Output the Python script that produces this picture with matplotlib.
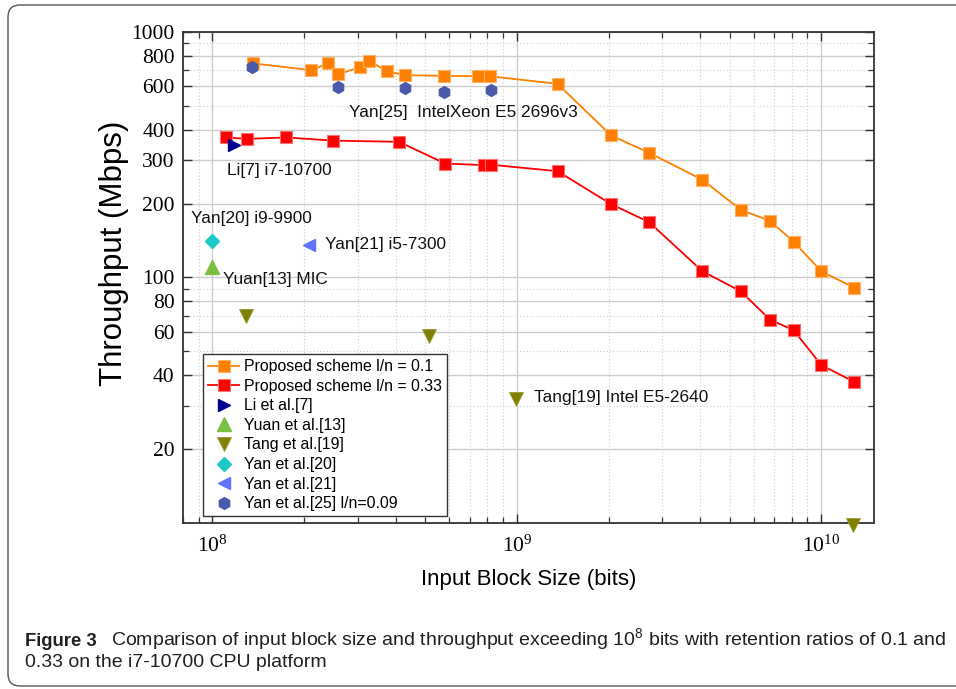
import matplotlib
matplotlib.use('Agg')
import matplotlib.pyplot as plt
from matplotlib.ticker import FixedLocator, FixedFormatter, LogLocator, NullFormatter, LogFormatterSciNotation
from matplotlib.patches import FancyBboxPatch
from matplotlib.transforms import IdentityTransform

# ---------------- data ----------------
prop01_x = [1.36e8, 2.11e8, 2.40e8, 2.59e8, 3.05e8, 3.27e8, 3.73e8, 4.29e8, 5.78e8, 7.46e8, 8.18e8,
            1.36e9, 2.04e9, 2.72e9, 4.07e9, 5.43e9, 6.78e9, 8.11e9, 1.0e10, 1.28e10]
prop01_y = [745, 699, 745, 674, 718, 764, 693, 667, 663, 660, 660,
            615, 379, 322, 250, 189, 170, 140, 106, 91]
prop033_x = [1.11e8, 1.30e8, 1.75e8, 2.49e8, 4.10e8, 5.82e8, 7.78e8, 8.23e8,
             1.36e9, 2.04e9, 2.72e9, 4.07e9, 5.43e9, 6.78e9, 8.11e9, 1.0e10, 1.28e10]
prop033_y = [372, 367, 372, 361, 357, 291, 287, 288,
             271, 199, 168, 106, 88, 67.4, 61, 44, 37.6]
li7_x = [1.175e8]
li7_y = [345]
yuan13_x = [1.0e8]
yuan13_y = [110]
tang19_x = [1.29e8, 5.13e8, 9.9e8, 1.27e10]
tang19_y = [70, 58, 32, 9.8]
yan20_x = [1.0e8]
yan20_y = [141]
yan21_x = [2.08e8]
yan21_y = [136]
yan25_x = [1.35e8, 2.59e8, 4.29e8, 5.78e8, 8.24e8]
yan25_y = [722, 598, 591, 569, 578]

ytick_major = [20, 40, 60, 80, 100, 200, 300, 400, 600, 800, 1000]
ytick_labels = ['20', '40', '60', '80', '100', '200', '300', '400', '600', '800', '1000']
ytick_minor = [30, 50, 70, 90, 500, 700, 900]

legend_labels = ['Proposed scheme l/n = 0.1', 'Proposed scheme l/n = 0.33', 'Li et al.[7]',
                 'Yuan et al.[13]', 'Tang et al.[19]', 'Yan et al.[20]', 'Yan et al.[21]',
                 'Yan et al.[25] l/n=0.09']
annotations = ['Yan[25]  IntelXeon E5 2696v3', 'Li[7] i7-10700', 'Yan[20] i9-9900',
               'Yan[21] i5-7300', 'Yuan[13] MIC', 'Tang[19] Intel E5-2640']

# ---------------- figure ----------------
SANS = ['Liberation Sans', 'DejaVu Sans']
SERIF = ['Liberation Serif', 'DejaVu Serif']

fig = plt.figure(figsize=(9.56, 6.89), dpi=100)
ax = fig.add_axes([183/956, 1-523/689, (874-183)/956, (523-32)/689])
ax.set_xscale('log')
ax.set_yscale('log')
ax.set_xlim(8.0e7, 1.49e10)
ax.set_ylim(10, 1000)

ORANGE = '#FF8000'
RED = '#FF0000'

ax.plot(prop01_x, prop01_y, '-s', color=ORANGE, lw=1.3, ms=8.2, mfc=ORANGE,
        mec='#FFB060', mew=0.8, label=legend_labels[0], zorder=4)
ax.plot(prop033_x, prop033_y, '-s', color=RED, lw=1.3, ms=8.2, mfc=RED,
        mec='#FF7070', mew=0.8, label=legend_labels[1], zorder=4)
ax.plot(li7_x, li7_y, '>', ls='none', color='#00008F', ms=9, mec='#00008F', label=legend_labels[2], zorder=5)
ax.plot(yuan13_x, yuan13_y, '^', ls='none', color='#7AC143', ms=10, mec='#7AC143', label=legend_labels[3], zorder=5)
ax.plot(tang19_x, tang19_y, 'v', ls='none', color='#7F7F00', ms=9.5, mec='#9A9A30', mew=0.6,
        label=legend_labels[4], zorder=5, clip_on=False)
ax.plot(yan20_x, yan20_y, 'D', ls='none', color='#1CC8C8', ms=7.5, mec='#1CC8C8', label=legend_labels[5], zorder=5)
ax.plot(yan21_x, yan21_y, '<', ls='none', color='#5F73FF', ms=9, mec='#5F73FF', label=legend_labels[6], zorder=5)
ax.plot(yan25_x, yan25_y, 'h', ls='none', color='#4A5AA8', ms=8.5, mec='#4A5AA8', label=legend_labels[7], zorder=5)

# ticks
ax.yaxis.set_major_locator(FixedLocator(ytick_major))
ax.yaxis.set_major_formatter(FixedFormatter(ytick_labels))
ax.yaxis.set_minor_locator(FixedLocator(ytick_minor))
ax.yaxis.set_minor_formatter(NullFormatter())
ax.xaxis.set_major_locator(LogLocator(base=10, numticks=10))
ax.xaxis.set_major_formatter(LogFormatterSciNotation())
ax.xaxis.set_minor_locator(LogLocator(base=10, subs=[2, 3, 4, 5, 6, 7, 8, 9], numticks=20))
ax.xaxis.set_minor_formatter(NullFormatter())

ax.tick_params(which='both', direction='in', top=True, right=True, color='#333333')
ax.tick_params(which='major', length=6.5, width=1.0)
ax.tick_params(which='minor', length=4, width=0.9)
ax.tick_params(axis='y', which='major', pad=6, labelsize=15.5)
ax.tick_params(axis='x', which='major', pad=9, labelsize=15.5)
for lab in ax.get_xticklabels() + ax.get_yticklabels():
    lab.set_family(SERIF)

for sp in ax.spines.values():
    sp.set_linewidth(1.3)
    sp.set_color('#333333')

ax.grid(which='major', color='#CDCDCD', lw=1.0, ls='-', zorder=0)
ax.grid(which='minor', color='#CFCFCF', lw=0.8, ls=(0, (1, 2)), zorder=0)
ax.set_axisbelow(True)

# labels
ax.set_xlabel('Input Block Size (bits)', fontsize=16, family=SANS)
ax.xaxis.set_label_coords(0.5, -0.093)
ax.set_ylabel('Throughput (Mbps)', fontsize=22.5, family=SANS)
ax.yaxis.set_label_coords(-0.078, 0.55)

# annotations (axes-fraction positions)
ann_pos = [(0.2407, 0.8365), (0.0632, 0.7189), (0.0111, 0.6206),
           (0.2055, 0.5662), (0.0575, 0.4963), (0.508, 0.2546)]
for txt, (px, py) in zip(annotations, ann_pos):
    ax.text(px, py, txt, transform=ax.transAxes, ha='left', va='center',
            fontsize=12.4, family=SANS, color='#111111', zorder=6)

# legend
leg = ax.legend(loc='lower left', bbox_to_anchor=(0.0289, 0.0143), borderaxespad=0,
                prop={'family': SANS, 'size': 11.4}, frameon=True, fancybox=False,
                edgecolor='#333333', framealpha=1.0, handlelength=2.0, handletextpad=0.32,
                labelspacing=0.29, borderpad=0.3, numpoints=1)
leg.get_frame().set_linewidth(1.0)
leg.set_zorder(7)

# caption
CAP = 14.0
fig.text(25/956, 1-646/689, 'Figure 3', fontsize=13.3, fontweight='bold', family=SANS,
         ha='left', va='baseline', color='#231F20')
fig.text(111/956, 1-646/689,
         'Comparison of input block size and throughput exceeding 10$^{\\mathdefault{8}}$ bits with retention ratios of 0.1 and',
         fontsize=CAP, family=SANS, ha='left', va='baseline', color='#231F20')
fig.text(25/956, 1-667/689, '0.33 on the i7-10700 CPU platform', fontsize=CAP, family=SANS,
         ha='left', va='baseline', color='#231F20')

# rounded border
border = FancyBboxPatch((8, 3), 1000, 684 - 3, boxstyle='round,pad=0,rounding_size=12',
                        transform=IdentityTransform(), fill=False, edgecolor='#555555', lw=1.0)
fig.patches.append(border)

fig.savefig('out.png', dpi=100)
